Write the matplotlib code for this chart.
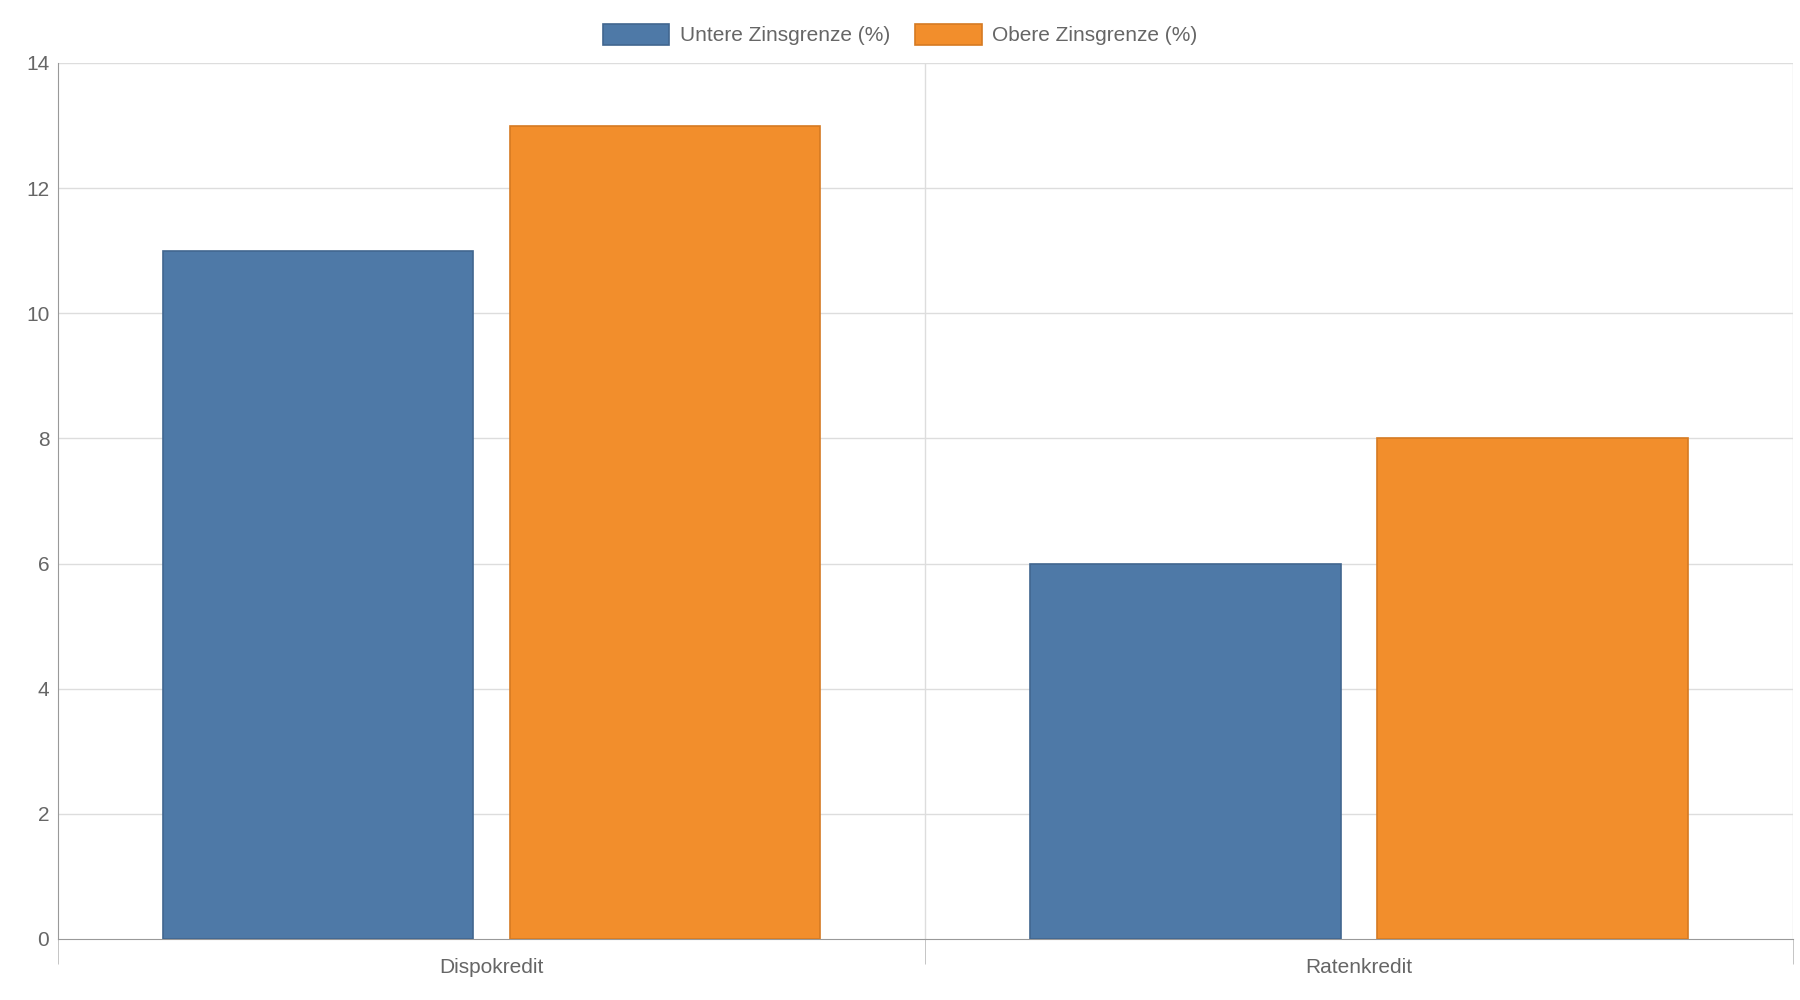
import matplotlib
matplotlib.use("Agg")
import matplotlib.pyplot as plt
import numpy as np

categories = ["Dispokredit", "Ratenkredit"]
lower_rate = [11, 6]
upper_rate = [13, 8]
series_labels = ["Untere Zinsgrenze (%)", "Obere Zinsgrenze (%)"]

plt.rcParams["font.family"] = ["Liberation Sans", "DejaVu Sans"]
text_c = "#666666"
grid_c = "#dddddd"

fig = plt.figure(figsize=(18, 10), dpi=100)
ax = fig.add_axes([0.032, 0.061, 0.964, 0.876])

x = np.arange(len(categories))
w = 0.358
off = 0.2
ax.bar(x - off, lower_rate, w, color="#4e79a7", edgecolor="#41668f", lw=1.2,
       label=series_labels[0], zorder=3)
ax.bar(x + off, upper_rate, w, color="#f28e2c", edgecolor="#d67a22", lw=1.2,
       label=series_labels[1], zorder=3)

ax.set_xlim(-0.5, 1.5)
ax.set_ylim(0, 14)
ax.set_yticks(range(0, 15, 2))
ax.set_xticks(x)
ax.set_xticklabels(categories)
ax.set_xticks([-0.5, 0.5, 1.5], minor=True)
ax.tick_params(axis="x", which="major", length=0, pad=14, labelsize=15, labelcolor=text_c)
ax.tick_params(axis="x", which="minor", length=18, color="#bbbbbb")
ax.tick_params(axis="y", length=0, pad=6, labelsize=15, labelcolor=text_c)

for y in range(2, 15, 2):
    ax.axhline(y, color=grid_c, lw=1, zorder=0)
for xv in [0.5, 1.5]:
    ax.axvline(xv, color=grid_c, lw=1, zorder=0)

for s in ["top", "right"]:
    ax.spines[s].set_visible(False)
ax.spines["left"].set_color("#999999")
ax.spines["bottom"].set_color("#999999")

fig.legend(loc="upper center", bbox_to_anchor=(0.5, 0.995), ncol=2, frameon=False,
           fontsize=15, labelcolor=text_c, handlelength=3.2, handleheight=1.2,
           columnspacing=1.2, handletextpad=0.5)

fig.savefig("out.png", dpi=100)
